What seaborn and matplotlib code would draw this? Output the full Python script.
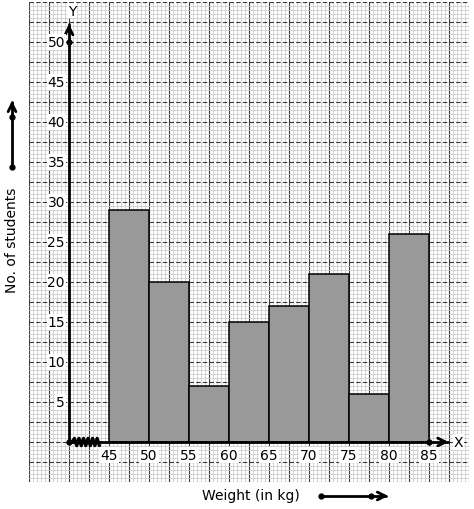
import numpy as np
import matplotlib
matplotlib.use("Agg")
import matplotlib.pyplot as plt
import seaborn as sns
from matplotlib.ticker import MultipleLocator

# class intervals (lower edges) and number of students
lower_edges = [45, 50, 55, 60, 65, 70, 75, 80]
students = [29, 20, 7, 15, 17, 21, 6, 26]
class_width = 5
x_ticks = [45, 50, 55, 60, 65, 70, 75, 80, 85]
y_ticks = [5, 10, 15, 20, 25, 30, 35, 40, 45, 50]

sns.set_style("white")
plt.rcParams["font.family"] = ["DejaVu Sans"]
plt.rcParams["text.color"] = "black"

fig = plt.figure(figsize=(4.74, 5.10), dpi=100)
ax = fig.add_axes([29 / 474, 27 / 510, 440 / 474, 480 / 510])

mids = [e + class_width / 2 for e in lower_edges]
bins = lower_edges + [lower_edges[-1] + class_width]
sns.histplot(x=mids, weights=students, bins=bins, color="#999999", alpha=1,
             edgecolor="black", linewidth=1.1, ax=ax, zorder=3)

ax.set_xlim(35, 90)
ax.set_ylim(-5, 55)
for s in ax.spines.values():
    s.set_visible(False)

# graph paper
ax.xaxis.set_major_locator(MultipleLocator(2.5))
ax.yaxis.set_major_locator(MultipleLocator(2.5))
ax.xaxis.set_minor_locator(MultipleLocator(0.5))
ax.yaxis.set_minor_locator(MultipleLocator(0.5))
ax.grid(which="minor", color="#cdcdcd", linewidth=0.6, zorder=0)
ax.grid(which="major", axis="x", color="#3a3a3a", linewidth=0.8, linestyle="-", zorder=1)
ax.grid(which="major", axis="y", color="#3a3a3a", linewidth=0.8, linestyle=(0, (4, 2)), zorder=1)
ax.set_axisbelow(True)
ax.tick_params(which="both", length=0, labelbottom=False, labelleft=False)
ax.set_xlabel("")
ax.set_ylabel("")

# axes with arrows
ax.plot([40, 40], [0, 52.2], color="black", lw=2, zorder=4)
ax.plot([40, 87.4], [0, 0], color="black", lw=2, zorder=4)
ax.annotate("", xy=(40, 52.6), xytext=(40, 51.0),
            arrowprops=dict(arrowstyle="->", lw=2, color="black", mutation_scale=14), zorder=5)
ax.annotate("", xy=(87.8, 0), xytext=(86.2, 0),
            arrowprops=dict(arrowstyle="->", lw=2, color="black", mutation_scale=14), zorder=5)
ax.plot([40, 40, 85], [0, 50, 0], "o", color="black", ms=3.5, zorder=6)
ax.text(40.4, 53.9, "Y", ha="center", va="center", fontsize=10,
        bbox=dict(fc="white", ec="none", pad=0.5), zorder=6)
ax.text(88.7, 0, "X", ha="center", va="center", fontsize=10,
        bbox=dict(fc="white", ec="none", pad=0.5), zorder=6)

# kink on x axis
zx = np.linspace(40.4, 43.8, 13)
zy = np.array([0] + [0.45, -0.45] * 6)
ax.plot(zx, zy, color="black", lw=2.4, zorder=5)

for v in y_ticks:
    ax.text(39.5, v, str(v), ha="right", va="center", fontsize=10,
            bbox=dict(fc="white", ec="none", pad=0.6), zorder=6)
for v in x_ticks:
    ax.text(v, -1.65, str(v), ha="center", va="center", fontsize=10,
            bbox=dict(fc="white", ec="none", pad=0.6), zorder=6)

# axis titles and scale arrows outside the paper
fig.text(12 / 474, 1 - 240 / 510, "No. of students", rotation=90,
         ha="center", va="center", fontsize=10)
fig.text(251 / 474, 1 - 496 / 510, "Weight (in kg)", ha="center", va="center", fontsize=10)

fig.add_artist(plt.Line2D([12 / 474, 12 / 474], [1 - 168 / 510, 1 - 103 / 510],
                          color="black", lw=2, transform=fig.transFigure))
ax.annotate("", xy=(12, 510 - 99), xytext=(12, 510 - 112), xycoords="figure pixels",
            textcoords="figure pixels",
            arrowprops=dict(arrowstyle="->", lw=2, color="black", mutation_scale=14),
            annotation_clip=False)
fig.add_artist(plt.Line2D([12 / 474, 12 / 474], [1 - 118 / 510, 1 - 168 / 510], marker="o",
                          ms=3.5, ls="none", color="black", transform=fig.transFigure))

fig.add_artist(plt.Line2D([321 / 474, 386 / 474], [1 - 497 / 510, 1 - 497 / 510],
                          color="black", lw=2, transform=fig.transFigure))
ax.annotate("", xy=(391, 510 - 497), xytext=(378, 510 - 497), xycoords="figure pixels",
            textcoords="figure pixels",
            arrowprops=dict(arrowstyle="->", lw=2, color="black", mutation_scale=14),
            annotation_clip=False)
fig.add_artist(plt.Line2D([321 / 474, 371 / 474], [1 - 497 / 510, 1 - 497 / 510], marker="o",
                          ms=3.5, ls="none", color="black", transform=fig.transFigure))

fig.savefig("out.png", dpi=100)
